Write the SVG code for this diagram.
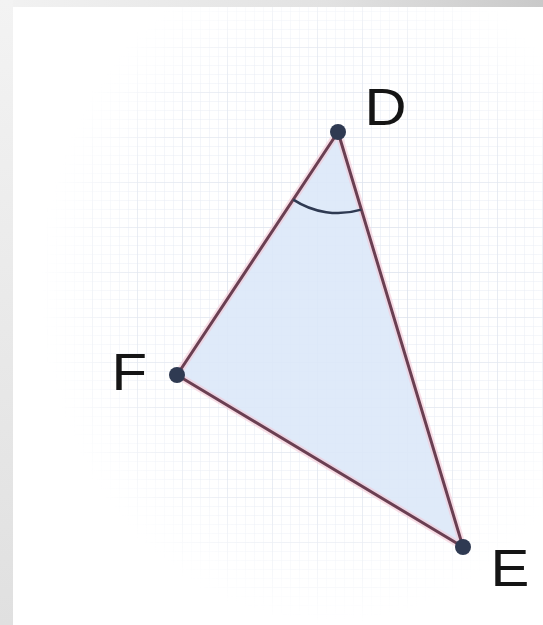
<svg xmlns="http://www.w3.org/2000/svg" width="543" height="625" viewBox="0 0 543 625">
<defs>
<linearGradient id="topg" x1="0" y1="0" x2="1" y2="0">
<stop offset="0" stop-color="#f2f2f2"/><stop offset="0.6" stop-color="#e2e2e2"/><stop offset="1" stop-color="#c9c9c9"/>
</linearGradient>
<linearGradient id="leftg" x1="0" y1="0" x2="0" y2="1">
<stop offset="0" stop-color="#f3f3f3"/><stop offset="1" stop-color="#e0e0e0"/>
</linearGradient>
<pattern id="minor" width="9" height="9" patternUnits="userSpaceOnUse" x="3" y="3">
<path d="M9 0V9M0 9H9" fill="none" stroke="#c9d3e6" stroke-width="1"/>
</pattern>
<pattern id="major" width="45" height="45" patternUnits="userSpaceOnUse" x="3" y="3">
<path d="M45 0V45M0 45H45" fill="none" stroke="#b8c3d8" stroke-width="1.2"/>
</pattern>
<radialGradient id="fade" cx="0.6" cy="0.45" r="0.55">
<stop offset="0" stop-color="#fff" stop-opacity="0.6"/><stop offset="0.7" stop-color="#fff" stop-opacity="0.4"/><stop offset="1" stop-color="#fff" stop-opacity="0"/>
</radialGradient>
<mask id="gm"><rect x="12" y="7" width="531" height="618" fill="url(#fade)"/></mask>
<style>
.lbl{font-family:"Liberation Sans",Arial,sans-serif;font-size:52px;fill:#151515}
.edge{stroke:#6a3f52;stroke-width:3;fill:none;stroke-linecap:round}
.halo{stroke:#f3c8d6;stroke-width:7;fill:none;opacity:0.6}
.pt{fill:#2f3a52}
</style>
</defs>
<rect width="543" height="625" fill="#ffffff"/>
<g mask="url(#gm)">
<rect x="12" y="7" width="531" height="618" fill="url(#minor)"/>
<rect x="12" y="7" width="531" height="618" fill="url(#major)"/>
</g>
<rect x="0" y="0" width="543" height="7" fill="url(#topg)"/>
<rect x="0" y="0" width="13" height="625" fill="url(#leftg)"/>
<g id="triangle">
<polygon points="338,132 177,375 463,547" fill="#dce8f8" opacity="0.9"/>
</g>
<g id="connectors">
<path class="halo" d="M338,132 L177,375 L463,547 Z"/>
<path class="edge" d="M338,132 L177,375"/>
<path class="edge" d="M177,375 L463,547"/>
<path class="edge" d="M463,547 L338,132"/>
<path d="M293.3,199.6 A81,81 0 0 0 361.3,209.6" fill="none" stroke="#2f3a52" stroke-width="2.5"/>
</g>
<g id="D"><circle class="pt" cx="338" cy="132" r="8"/><text class="lbl" transform="translate(364.5,125) scale(1.12,1)">D</text></g>
<g id="F"><circle class="pt" cx="177" cy="375" r="8"/><text class="lbl" transform="translate(111.5,390) scale(1.12,1)">F</text></g>
<g id="E"><circle class="pt" cx="463" cy="547" r="8"/><text class="lbl" transform="translate(490.5,586) scale(1.12,1)">E</text></g>
</svg>
